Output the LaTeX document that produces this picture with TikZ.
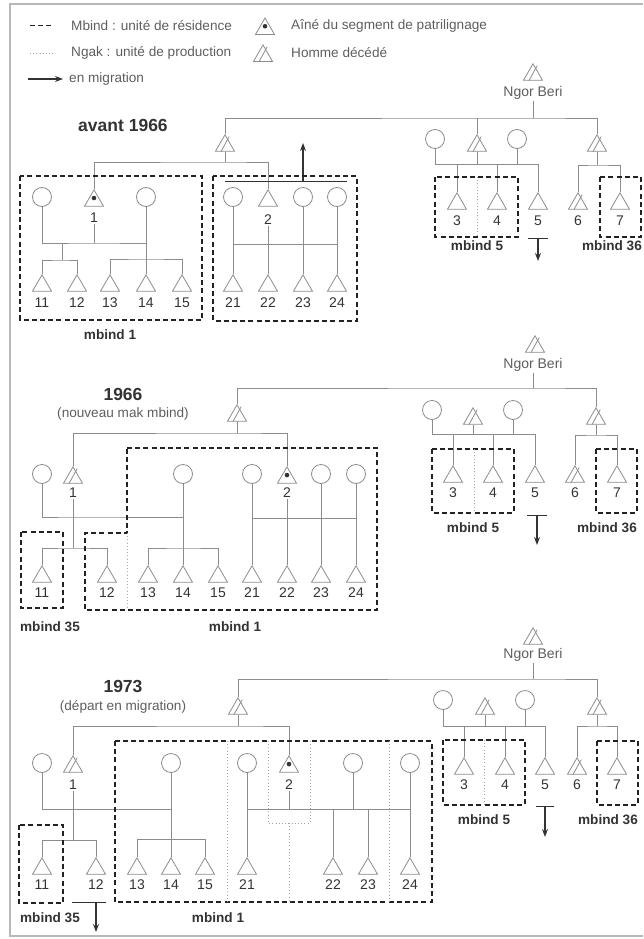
\documentclass[tikz,border=0pt]{standalone}
\usepackage{fontspec}
\setmainfont{Liberation Sans}
\usepackage{tikz}
\usetikzlibrary{
  arrows.meta,
  calc,
  shapes.geometric,
}
\definecolor{ink}{HTML}{333333}
\definecolor{soft}{HTML}{5E5E5E}
\definecolor{kinline}{HTML}{8C8C8C}
\definecolor{boxline}{HTML}{222222}
\definecolor{frameg}{HTML}{B8B8B8}
\tikzset{
  >=Stealth,
  font=\fontsize{13.6}{16}\selectfont,
  every node/.append style={text=ink},
  kin/.style={draw=kinline, line width=0.8pt},
  woman/.style={circle, draw=kinline, line width=0.8pt, minimum size=19pt, inner sep=0pt},
  man/.style={regular polygon, regular polygon sides=3, draw=kinline, line width=0.8pt,
    minimum size=22pt, inner sep=0pt, anchor=north},
  elder/.style={man, path picture={\fill[ink] (path picture bounding box.center) circle (2.3pt);}},
  dead/.style={man},
  num/.style={font=\fontsize{14}{16}\selectfont, inner sep=1pt},
  namelab/.style={font=\fontsize{14}{16}\selectfont, text=soft, inner sep=1pt},
  legtext/.style={anchor=west, text=soft, inner sep=1pt},
  yearlab/.style={font=\bfseries\fontsize{17.5}{20}\selectfont},
  sublab/.style={text=soft},
  mblab/.style={font=\bfseries\fontsize{13.6}{15}\selectfont},
  mbind/.style={draw=boxline, line width=1.3pt, dash pattern=on 5pt off 3.2pt},
  ngak/.style={draw=kinline!80, line width=0.7pt, dash pattern=on 1pt off 2.2pt},
  mig/.style={draw=ink, line width=1.1pt, -{Stealth[length=8pt,width=6pt]}},
  bar/.style={draw=ink, line width=0.9pt},
}

\begin{document}
\begin{tikzpicture}[x=1pt,y=-1pt]
  \useasboundingbox (0,0) rectangle (643,939);
  \draw[frameg, line width=1.2pt] (643,4) -| (10,936) -- (643,936);

  % legend
  \coordinate (lgD1) at (30,26); \coordinate (lgD2) at (54,26);
  \draw[mbind, line width=1pt] (lgD1) -- (lgD2);
  \node[legtext] (lgMbind) at (70,26) {Mbind : unité de résidence};
  \node[elder, anchor=center] (lgElder) at (265,29) {};
  \node[legtext] (lgElderT) at (290,26) {Aîné du segment de patrilignage};
  \coordinate (lgN1) at (30,53); \coordinate (lgN2) at (54,53);
  \draw[ngak] (lgN1) -- (lgN2);
  \node[legtext] (lgNgak) at (70,53) {Ngak : unité de production};
  \node[dead, anchor=center] (lgDead) at (263,56) {};
  \node[legtext] (lgDeadT) at (290,53) {Homme décédé};
  \coordinate (lgM1) at (28,79); \coordinate (lgM2) at (63,79);
  \draw[mig] (lgM1) -- (lgM2);
  \node[legtext] (lgMig) at (68,79) {en migration};

  % avant 1966
  \node[yearlab] (aYear) at (123,125) {avant 1966};
  \node[dead] (aNB) at (533,63) {};
  \node[namelab] (aNBt) at (533,93) {Ngor Beri};
  \coordinate (aTop) at (535,118);
  \node[dead] (aF) at (225,134) {};
  \node[dead] (aG) at (477,134) {};
  \node[dead] (aH) at (597,134) {};
  \draw[kin] (aNBt.south) -- (aNBt.south |- aTop);
  \draw[kin] (aF.north) |- (aTop) -| (aH.north);
  \draw[kin] (aG.north) -- (aG.north |- aTop);

  \foreach \n/\x in {11/42,12/77,13/110,14/146,15/182,21/233,22/268,23/303,24/337} {
    \node[man] (a\n) at (\x,274) {};
    \node[num] (aL\n) at (\x,303) {\n};
  }
  \foreach \n/\x in {3/457,4/497,5/538,7/620} {
    \node[man] (a\n) at (\x,192) {};
    \node[num] (aL\n) at (\x,221) {\n};
  }
  \node[dead] (a6) at (578,192) {};
  \node[num] (aL6) at (578,221) {6};

  \node[woman] (aw11) at (42,197) {};
  \node[elder] (a1) at (94,189) {};
  \node[woman] (aw12) at (146,197) {};
  \node[num] (aL1) at (94,218) {1};
  \node[woman] (aw21) at (233,197) {};
  \node[man] (a2) at (268,189) {};
  \node[woman] (aw23) at (303,197) {};
  \node[woman] (aw24) at (337,197) {};
  \node[num] (aL2) at (268,220) {2};

  \coordinate (aSib) at (225,162);
  \draw[kin] (aF.south) -- (aSib);
  \draw[kin] (a1.north) |- (aSib) -| (a2.north);
  \coordinate (aM1) at (94,243);
  \draw[kin] (aw11.south) |- (aM1) -| (aw12.south);
  \draw[kin] (aL1.south) -- (aM1);
  \draw[kin] (aw12.south) -- (a14.north);
  \coordinate (aJ1) at (62,260);
  \draw[kin] (a11.north) |- (aJ1) -| (a12.north);
  \draw[kin] (aJ1) -- (aJ1 |- aM1);
  \coordinate (aJ2) at (146,259);
  \draw[kin] (a13.north) |- (aJ2) -| (a15.north);
  \coordinate (aM2) at (268,244);
  \draw[kin] (aw21 |- aM2) -- (aw24 |- aM2);
  \draw[kin] (aw21.south) -- (a21.north);
  \draw[kin] (aL2.south) -- (a22.north);
  \draw[kin] (aw23.south) -- (a23.north);
  \draw[kin] (aw24.south) -- (a24.north);
  \coordinate (aMigL) at (225,181); \coordinate (aMigR) at (347,181);
  \coordinate (aGo) at (303,143);
  \draw[bar] (aMigL) -- (aMigR);
  \draw[mig] (aGo |- aMigL) -- (aGo);

  \node[woman] (aw3) at (435,139) {};
  \node[woman] (aw4) at (517,139) {};
  \coordinate (aM3) at (477,164);
  \draw[kin] (aw3.south) |- (a5.north |- aM3) -- (a5.north);
  \draw[kin] (aw4.south) -- (aw4.south |- aM3);
  \draw[kin] (aG.south) -- (aM3);
  \draw[kin] (a3.north) -- (a3.north |- aM3);
  \draw[kin] (a4.north) -- (a4.north |- aM3);
  \coordinate (aM4) at (597,165);
  \draw[kin] (aH.south) -- (aM4);
  \draw[kin] (a6.north) |- (aM4) -| (a7.north);
  \coordinate (aOut5) at (538,238);
  \draw[bar] ($(aOut5)+(-10,0)$) -- ($(aOut5)+(10,0)$);
  \draw[mig] (aOut5) -- ++(0,23);

  \draw[mbind] (20,176) rectangle (202,320);
  \draw[mbind] (213,176) rectangle (357,321);
  \draw[mbind] (435,177) rectangle (518,237);
  \draw[ngak] (477,177) -- (477,237);
  \draw[mbind] (600,177) rectangle (641,237);
  \node[mblab] (aB1) at (110,335) {mbind 1};
  \node[mblab] (aB5) at (477,246) {mbind 5};
  \node[mblab] (aB36) at (612,246) {mbind 36};

  % 1966
  \node[yearlab] (bYear) at (123,394) {1966};
  \node[sublab] (bSub) at (123,414) {(nouveau mak mbind)};
  \node[dead] (bNB) at (535,335) {};
  \node[namelab] (bNBt) at (533,365) {Ngor Beri};
  \coordinate (bTop) at (535,388);
  \node[dead] (bF) at (237,404) {};
  \node[dead] (bG) at (473,407) {};
  \node[dead] (bH) at (596,407) {};
  \draw[kin] (bNBt.south) -- (bNBt.south |- bTop);
  \draw[kin] (bF.north) |- (bTop) -| (bH.north);

  \foreach \n/\x in {11/42,12/107,13/148,14/183,15/218,21/252,22/287,23/321,24/356} {
    \node[man] (b\n) at (\x,565) {};
    \node[num] (bL\n) at (\x,593) {\n};
  }
  \foreach \n/\x in {3/453,4/493,5/535,7/617} {
    \node[man] (b\n) at (\x,465) {};
    \node[num] (bL\n) at (\x,493) {\n};
  }
  \node[dead] (b6) at (575,465) {};
  \node[num] (bL6) at (575,493) {6};

  \node[woman] (bw11) at (42,474) {};
  \node[dead] (b1) at (73,466) {};
  \node[woman] (bw12) at (183,474) {};
  \node[num] (bL1) at (73,493) {1};
  \node[woman] (bw21) at (252,474) {};
  \node[elder] (b2) at (287,466) {};
  \node[woman] (bw23) at (321,474) {};
  \node[woman] (bw24) at (356,474) {};
  \node[num] (bL2) at (287,493) {2};

  \coordinate (bSib) at (237,433);
  \draw[kin] (bF.south) -- (bSib);
  \draw[kin] (b1.north) |- (bSib) -| (b2.north);
  \coordinate (bM1) at (73,517);
  \draw[kin] (bw11.south) |- (bM1) -| (bw12.south);
  \draw[kin] (bw12.south) -- (b14.north);
  \coordinate (bJ1) at (73,548);
  \draw[kin] (bL1.south) -- (bJ1);
  \draw[kin] (b11.north) |- (bJ1) -| (b12.north);
  \coordinate (bJ2) at (183,548);
  \draw[kin] (b13.north) |- (bJ2) -| (b15.north);
  \coordinate (bM2) at (287,518);
  \draw[kin] (bw21 |- bM2) -- (bw24 |- bM2);
  \draw[kin] (bw21.south) -- (b21.north);
  \draw[kin] (bL2.south) -- (b22.north);
  \draw[kin] (bw23.south) -- (b23.north);
  \draw[kin] (bw24.south) -- (b24.north);

  \node[woman] (bw3) at (432,410) {};
  \node[woman] (bw4) at (513,410) {};
  \coordinate (bM3) at (473,434);
  \draw[kin] (bw3.south) |- (b5.north |- bM3) -- (b5.north);
  \draw[kin] (bw4.south) -- (bw4.south |- bM3);
  \draw[kin] (bG.south) -- (bM3);
  \draw[kin] (b3.north) -- (b3.north |- bM3);
  \draw[kin] (b4.north) -- (b4.north |- bM3);
  \coordinate (bM4) at (596,435);
  \draw[kin] (bH.south) -- (bM4);
  \draw[kin] (b6.north) |- (bM4) -| (b7.north);
  \coordinate (bOut5) at (537,515);
  \draw[bar] ($(bOut5)+(-10,0)$) -- ($(bOut5)+(10,0)$);
  \draw[mig] (bOut5) -- ++(0,30);

  \draw[mbind] (21,532) rectangle (63,608);
  \draw[mbind] (127,448) -- (377,448) -- (377,610) -- (85,610) -- (85,533) -- (127,533) -- cycle;
  \draw[ngak] (127,533) -- (127,608);
  \draw[mbind] (432,449) rectangle (514,513);
  \draw[ngak] (474,449) -- (474,513);
  \draw[mbind] (596,449) rectangle (637,513);
  \node[mblab] (bB35) at (50,627) {mbind 35};
  \node[mblab] (bB1) at (235,627) {mbind 1};
  \node[mblab] (bB5) at (473,528) {mbind 5};
  \node[mblab] (bB36) at (607,528) {mbind 36};

  % 1973
  \node[yearlab] (cYear) at (123,686) {1973};
  \node[sublab] (cSub) at (123,707) {(départ en migration)};
  \node[dead] (cNB) at (533,627) {};
  \node[namelab] (cNBt) at (533,655) {Ngor Beri};
  \coordinate (cTop) at (535,679);
  \node[dead] (cF) at (238,697) {};
  \node[dead] (cG) at (485,697) {};
  \node[dead] (cH) at (597,697) {};
  \draw[kin] (cNBt.south) -- (cNBt.south |- cTop);
  \draw[kin] (cF.north) |- (cTop) -| (cH.north);

  \foreach \n/\x in {11/42,12/96,13/137,14/171,15/205,21/247,22/333,23/368,24/410} {
    \node[man] (c\n) at (\x,857) {};
    \node[num] (cL\n) at (\x,885) {\n};
  }
  \foreach \n/\x in {3/464,4/505,5/545,7/617} {
    \node[man] (c\n) at (\x,757) {};
    \node[num] (cL\n) at (\x,785) {\n};
  }
  \node[dead] (c6) at (577,757) {};
  \node[num] (cL6) at (577,785) {6};

  \node[woman] (cw11) at (42,763) {};
  \node[dead] (c1) at (73,755) {};
  \node[woman] (cw12) at (171,763) {};
  \node[num] (cL1) at (73,785) {1};
  \node[woman] (cw21) at (247,763) {};
  \node[elder] (c2) at (289,755) {};
  \node[woman] (cw23) at (353,763) {};
  \node[woman] (cw24) at (410,763) {};
  \node[num] (cL2) at (289,785) {2};

  \coordinate (cSib) at (238,726);
  \draw[kin] (cF.south) -- (cSib);
  \draw[kin] (c1.north) |- (cSib) -| (c2.north);
  \coordinate (cM1) at (73,809);
  \draw[kin] (cw11.south) |- (cM1) -| (cw12.south);
  \draw[kin] (cw12.south) -- (c14.north);
  \coordinate (cJ1) at (73,840);
  \draw[kin] (cL1.south) -- (cJ1);
  \draw[kin] (c11.north) |- (cJ1) -| (c12.north);
  \coordinate (cJ2) at (171,839);
  \draw[kin] (c13.north) |- (cJ2) -| (c15.north);
  \coordinate (cM2) at (289,809);
  \draw[kin] (cw21 |- cM2) -- (cw24 |- cM2);
  \draw[kin] (cw21.south) -- (c21.north);
  \draw[kin] (cL2.south) -- (cM2);
  \draw[kin] (cw23.south) -- (cw23.south |- cM2);
  \draw[kin] (cw24.south) -- (c24.north);
  \draw[kin] (c22.north) -- (c22.north |- cM2);
  \draw[kin] (c23.north) -- (c23.north |- cM2);
  \coordinate (cOut12) at (96,902);
  \draw[bar] ($(cOut12)+(-24,0)$) -- ($(cOut12)+(10,0)$);
  \draw[mig] (cOut12) -- ++(0,30);

  \node[woman] (cw3) at (443,700) {};
  \node[woman] (cw4) at (525,700) {};
  \coordinate (cM3) at (485,726);
  \draw[kin] (cw3.south) |- (c5.north |- cM3) -- (c5.north);
  \draw[kin] (cw4.south) -- (cw4.south |- cM3);
  \draw[kin] (cG.south) -- (cM3);
  \draw[kin] (c3.north) -- (c3.north |- cM3);
  \draw[kin] (c4.north) -- (c4.north |- cM3);
  \coordinate (cM4) at (597,726);
  \draw[kin] (cH.south) -- (cM4);
  \draw[kin] (c6.north) |- (cM4) -| (c7.north);
  \coordinate (cOut5) at (545,806);
  \draw[bar] ($(cOut5)+(-9,0)$) -- ($(cOut5)+(9,0)$);
  \draw[mig] (cOut5) -- ++(0,31);

  \draw[mbind] (19,825) rectangle (63,903);
  \draw[mbind] (115,741) rectangle (432,902);
  \draw[ngak] (227,741) -- (227,902);
  \draw[ngak] (268,741) -- (268,823) -- (310,823) -- (310,741);
  \draw[ngak] (289,823) -- (289,902);
  \draw[ngak] (389,741) -- (389,902);
  \draw[mbind] (443,740) rectangle (525,805);
  \draw[ngak] (484,740) -- (484,805);
  \draw[mbind] (597,741) rectangle (638,805);
  \node[mblab] (cB35) at (50,918) {mbind 35};
  \node[mblab] (cB1) at (218,918) {mbind 1};
  \node[mblab] (cB5) at (484,820) {mbind 5};
  \node[mblab] (cB36) at (608,820) {mbind 36};

  % deceased men get the stroke
  \foreach \n in {lgDead,aNB,aF,aG,aH,a6,bNB,bF,bG,bH,b1,b6,cNB,cF,cG,cH,c1,c6}
    \draw[kin] ($(\n.corner 2)!0.3!(\n.corner 3)$) -- ($(\n.corner 1)+(4.2pt,-2.6pt)$);
\end{tikzpicture}
\end{document}
